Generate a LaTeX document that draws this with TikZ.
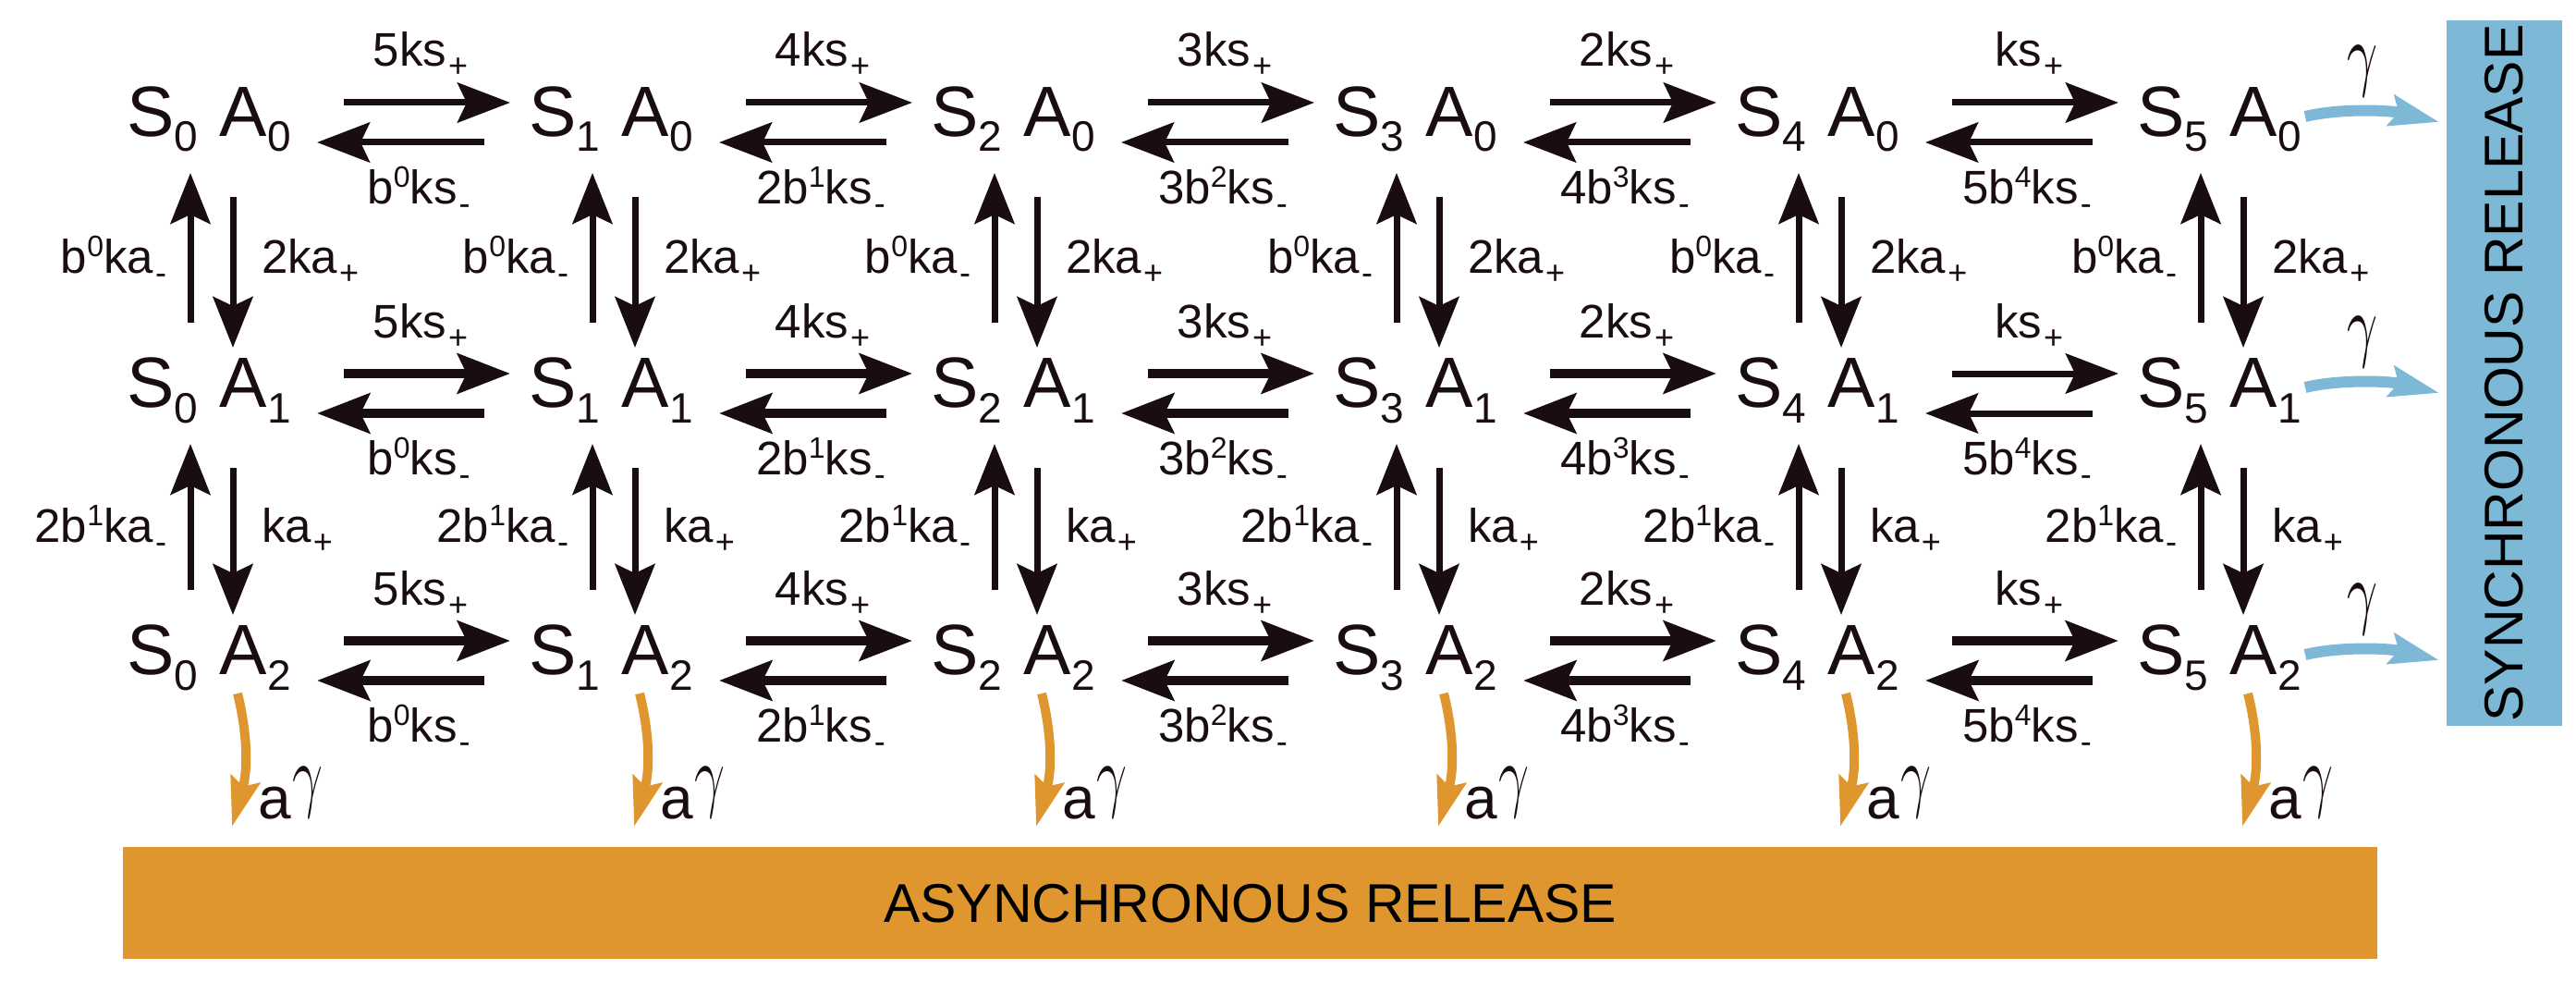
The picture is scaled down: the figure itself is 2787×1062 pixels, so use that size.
\documentclass[tikz,border=0pt]{standalone}
\usepackage{fontspec}
\setmainfont{Liberation Sans}
\usetikzlibrary{arrows.meta,calc}
\definecolor{ink}{RGB}{26,13,16}
\definecolor{orng}{RGB}{224,150,47}
\definecolor{skyb}{RGB}{125,185,215}
\newcommand\fs[1]{\fontsize{#1}{#1}\selectfont}
\newcommand\stt[2]{{\fs{77}S\raisebox{-17pt}{\fs{46}#1}\hspace{24pt}A\raisebox{-17pt}{\fs{46}#2}}}
\newcommand\lo[1]{\hspace{2pt}\raisebox{-12pt}{\fs{36}#1}}
\newcommand\hi[1]{\raisebox{18pt}{\fs{32}#1}}
\newcommand\lb[1]{{\fs{51}#1}}
\newcommand\gam{\resizebox*{33pt}{55pt}{$\gamma$}}
\begin{document}
\begin{tikzpicture}[x=1pt,y=-1pt,
  stnode/.style={inner sep=0pt, outer sep=0pt, text=ink, anchor=base west},
  lbnode/.style={inner sep=0pt, outer sep=0pt, text=ink},
  harr/.style={draw=ink, line width=#1, -{Stealth[length=57pt,width=43pt,inset=10pt]}},
  varr/.style={draw=ink, line width=7pt, -{Stealth[length=55pt,width=43pt,inset=10pt]}},
  oarr/.style={draw=orng, line width=10pt, -{Stealth[length=53pt,width=32pt,inset=8pt]}},
  barr/.style={draw=skyb, line width=12pt, -{Stealth[length=53pt,width=33pt,inset=8pt]}}]
\useasboundingbox (0,0) rectangle (2787,1062);
% states
\foreach \ci in {0,...,5} {
  \foreach \ri/\bl in {0/147,1/440,2/729} {
    \node[stnode] (s\ci\ri) at ({137+435*\ci}, \bl) {\stt{\ci}{\ri}};
  }
}
% horizontal transitions
\foreach \ci/\ni/\tl/\ul in {0/1/{5ks\lo{+}}/{b\hi{0}ks\lo{-}},
                             1/2/{4ks\lo{+}}/{2b\hi{1}ks\lo{-}},
                             2/3/{3ks\lo{+}}/{3b\hi{2}ks\lo{-}},
                             3/4/{2ks\lo{+}}/{4b\hi{3}ks\lo{-}},
                             4/5/{ks\lo{+}}/{5b\hi{4}ks\lo{-}}} {
  \foreach \ri in {0,1,2} {
    \pgfmathsetmacro\lw{\ri==0 ? 7 : ((\ri==1 && \ci==4) ? 7 : 10)}
    \draw[harr=\lw pt] ([shift={(235pt,36pt)}]s\ci\ri.base west) -- ([shift={(-20pt,36pt)}]s\ni\ri.base west);
    \draw[harr=\lw pt] ([shift={(-48pt,-7pt)}]s\ni\ri.base west) -- ([shift={(206pt,-7pt)}]s\ci\ri.base west);
    \node[lbnode, anchor=base] (t\ci\ri) at ([shift={(318pt,75pt)}]s\ci\ri.base west) {\lb{\tl}};
    \node[lbnode, anchor=base] (u\ci\ri) at ([shift={(316pt,-73pt)}]s\ci\ri.base west) {\lb{\ul}};
  }
}
% vertical transitions
\foreach \ci in {0,...,5} {
  \foreach \ri/\ni/\ll/\rl in {0/1/{b\hi{0}ka\lo{-}}/{2ka\lo{+}},
                               1/2/{2b\hi{1}ka\lo{-}}/{ka\lo{+}}} {
    \draw[varr] ([shift={(69pt,91pt)}]s\ci\ni.base west) -- ([shift={(69pt,-40pt)}]s\ci\ri.base west);
    \draw[varr] ([shift={(115pt,-66pt)}]s\ci\ri.base west) -- ([shift={(115pt,64pt)}]s\ci\ni.base west);
    \node[lbnode, anchor=base east] (l\ci\ri) at ($(s\ci\ri.base west)!0.5!(s\ci\ni.base west)+(43pt,-2pt)$) {\lb{\ll}};
    \node[lbnode, anchor=base west] (r\ci\ri) at ($(s\ci\ri.base west)!0.5!(s\ci\ni.base west)+(146pt,-2pt)$) {\lb{\rl}};
  }
}
% asynchronous release
\node[fill=orng, inner sep=0pt, minimum width=2439pt, minimum height=121pt, anchor=north west, font=\fs{59}, text=black] (asr) at (133,916) {ASYNCHRONOUS RELEASE};
\foreach \ci in {0,...,5} {
  \coordinate (o\ci) at ([shift={(114pt,-165pt)}]s\ci2.base west);
  \draw[oarr] ([shift={(120pt,-21pt)}]s\ci2.base west) .. controls +(10pt,-40pt) and +(18pt,64pt) .. (o\ci);
  \node[lbnode, anchor=base west] (ag\ci) at ([shift={(142pt,-156pt)}]s\ci2.base west) {\fs{64}a\hspace{2pt}\raisebox{18pt}{\gam}};
}
% synchronous release
\node[fill=skyb, rotate=90, inner sep=0pt, minimum width=763pt, minimum height=125pt, font=\fs{59}, text=black] (sr) at (2709.5,403.5) {SYNCHRONOUS RELEASE};
\foreach \ri/\bl in {0/147,1/440,2/729} {
  \coordinate (bt\ri) at (2639,{\bl-15});
  \draw[barr] ([shift={(182pt,21pt)}]s5\ri.base west) .. controls +(37pt,9pt) and +(-54pt,13pt) .. (bt\ri);
  \node[lbnode, anchor=center] (g\ri) at ([shift={(244pt,70pt)}]s5\ri.base west) {\gam};
}
\end{tikzpicture}
\end{document}
